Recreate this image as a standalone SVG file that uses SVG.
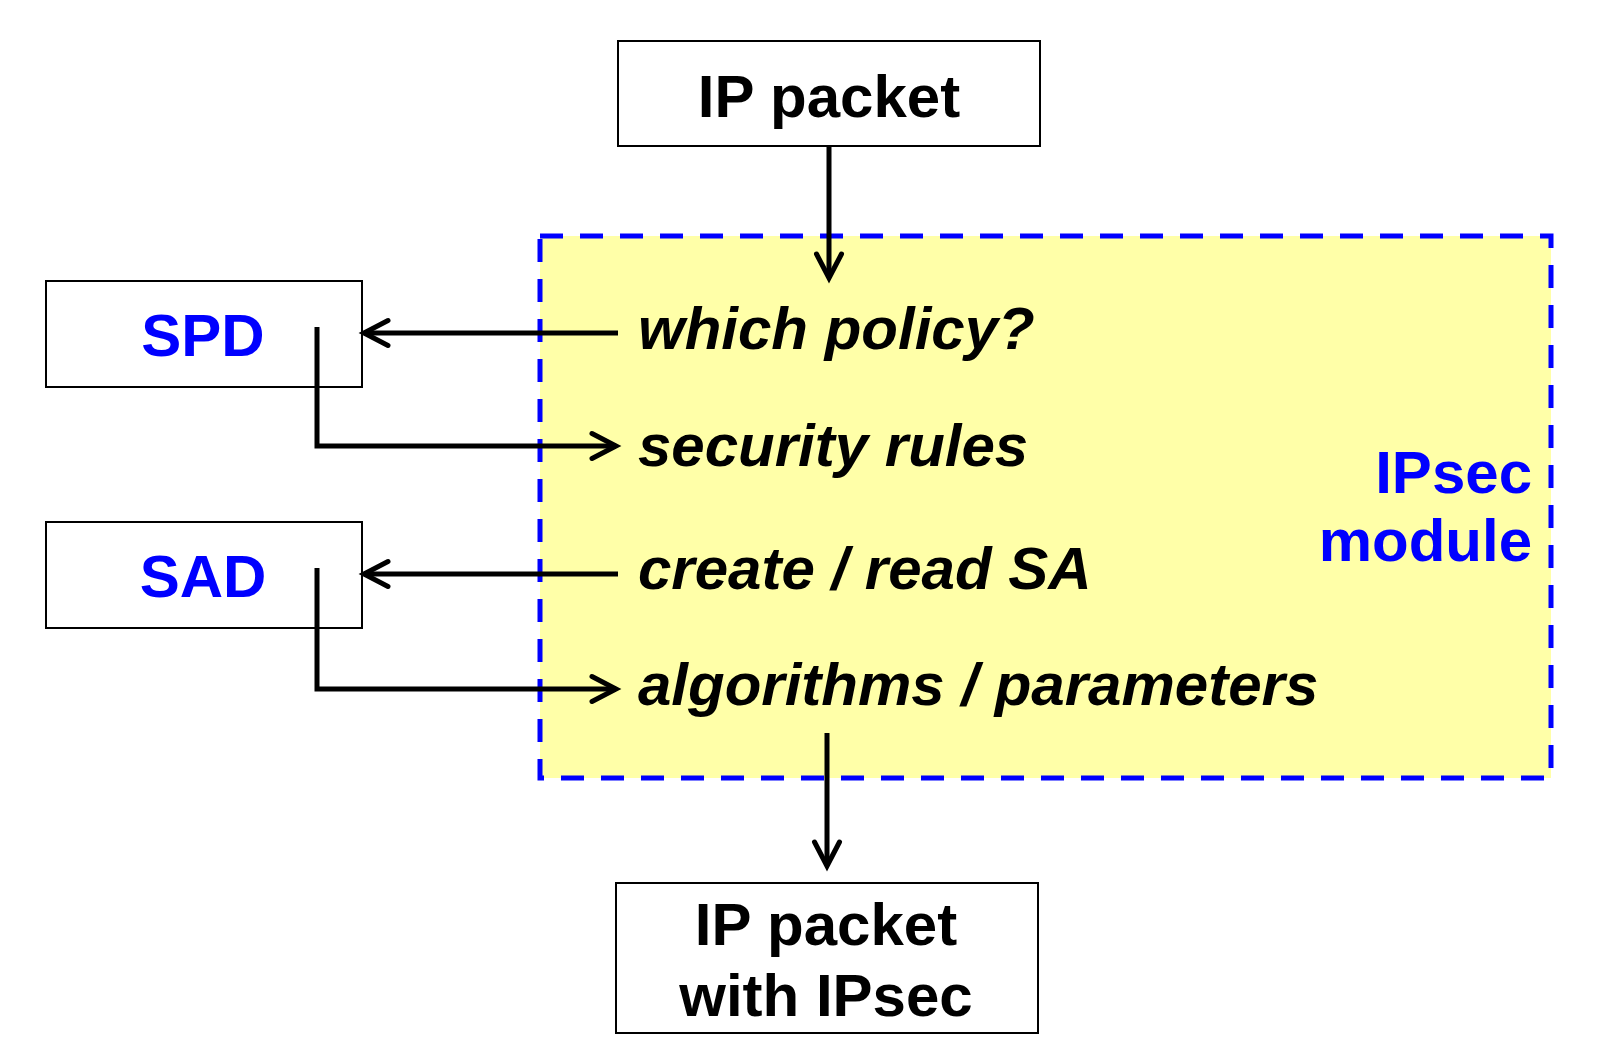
<svg xmlns="http://www.w3.org/2000/svg" width="1598" height="1062" viewBox="0 0 1598 1062">
  <style>
    .box { fill: #ffffff; stroke: #000000; stroke-width: 2; }
    .t { font-family: "Liberation Sans", Arial, sans-serif; font-weight: bold; font-size: 60px; }
    .blk { fill: #000000; }
    .blu { fill: #0000ff; }
    .it { font-style: italic; }
    .conn { fill: none; stroke: #000000; stroke-width: 5; }
  </style>
  <defs>
    <marker id="arr" markerUnits="userSpaceOnUse" orient="auto" markerWidth="40" markerHeight="40" viewBox="-30 -20 40 40" refX="0" refY="0" overflow="visible">
      <path d="M-24,-12.5 L0,0 L-24,12.5" fill="none" stroke="#000000" stroke-width="5" stroke-linecap="round" stroke-linejoin="miter"/>
    </marker>
  </defs>
  <rect width="1598" height="1062" fill="#ffffff"/>

  <g id="ipsec-module">
    <rect x="540" y="236" width="1011" height="542" fill="#ffffa8" stroke="#0000ff" stroke-width="5" stroke-dasharray="23 17"/>
    <text class="t blu" x="1532" y="493" text-anchor="end">IPsec</text>
    <text class="t blu" x="1532" y="561" text-anchor="end">module</text>
  </g>

  <g id="ip-packet">
    <rect class="box" x="618" y="41" width="422" height="105"/>
    <text class="t blk" x="829" y="117" text-anchor="middle">IP packet</text>
  </g>

  <g id="spd">
    <rect class="box" x="46" y="281" width="316" height="106"/>
    <text class="t blu" x="203" y="356" text-anchor="middle">SPD</text>
  </g>

  <g id="sad">
    <rect class="box" x="46" y="522" width="316" height="106"/>
    <text class="t blu" x="203" y="597" text-anchor="middle">SAD</text>
  </g>

  <g id="ip-packet-ipsec">
    <rect class="box" x="616" y="883" width="422" height="150"/>
    <text class="t blk" x="826" y="945" text-anchor="middle">IP packet</text>
    <text class="t blk" x="826" y="1016" text-anchor="middle">with IPsec</text>
  </g>

  <g id="label-which-policy">
    <text class="t blk it" x="638" y="349">which policy?</text>
  </g>
  <g id="label-security-rules">
    <text class="t blk it" x="638" y="466">security rules</text>
  </g>
  <g id="label-create-read-sa">
    <text class="t blk it" x="638" y="589">create / read SA</text>
  </g>
  <g id="label-algorithms">
    <text class="t blk it" x="638" y="705">algorithms / parameters</text>
  </g>

  <g id="connectors">
    <path class="conn" d="M829,146 L829,278" marker-end="url(#arr)"/>
    <path class="conn" d="M618,333 L364,333" marker-end="url(#arr)"/>
    <path class="conn" d="M317,327 L317,446 L616,446" marker-end="url(#arr)"/>
    <path class="conn" d="M618,574 L364,574" marker-end="url(#arr)"/>
    <path class="conn" d="M317,568 L317,689 L616,689" marker-end="url(#arr)"/>
    <path class="conn" d="M827,733 L827,866" marker-end="url(#arr)"/>
  </g>
</svg>
